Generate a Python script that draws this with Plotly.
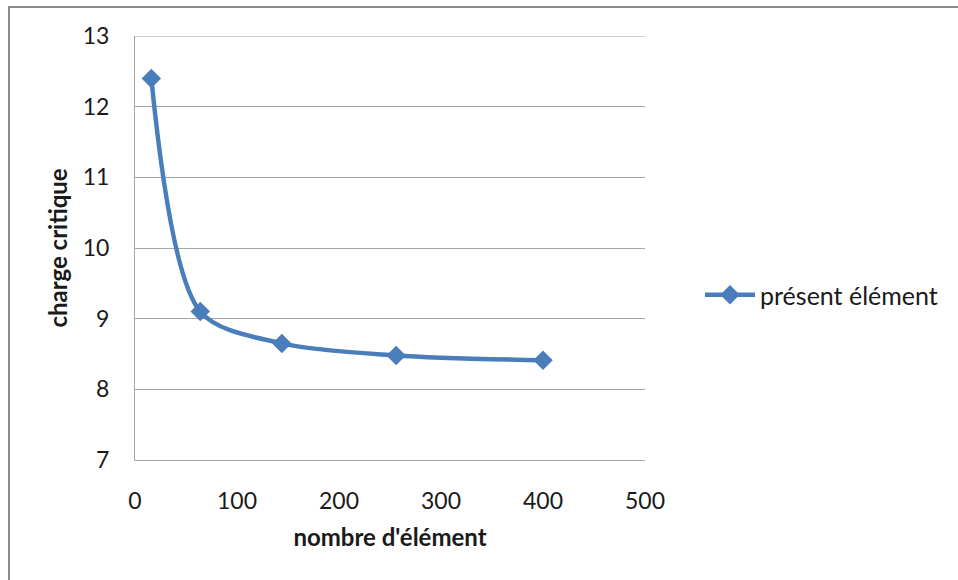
import plotly.graph_objects as go

# Critical load versus number of elements
nombre_element = [16, 64, 144, 256, 400]
charge_critique = [12.4, 9.1, 8.65, 8.48, 8.41]
serie_nom = "présent élément"

x_ticks = [0, 100, 200, 300, 400, 500]
y_ticks = [7, 8, 9, 10, 11, 12, 13]

BLUE = "#4A7EBB"
GRID = "#A6A6A6"
FONT = "Lato, 'Open Sans', sans-serif"

fig = go.Figure()
fig.add_trace(go.Scatter(
    x=nombre_element,
    y=charge_critique,
    mode="lines+markers",
    name=serie_nom,
    line=dict(color=BLUE, width=4.5, shape="spline", smoothing=0.85),
    marker=dict(symbol="diamond", size=15, color=BLUE),
    showlegend=True,
))

W, H = 958, 580
L, R, T, B = 135, 313, 36, 120
pw, ph = W - L - R, H - T - B

def px_x(p):
    return (p - L) / pw

def px_y(p):
    return (H - B - p) / ph

fig.update_layout(
    width=W, height=H,
    margin=dict(l=L, r=R, t=T, b=B),
    paper_bgcolor="white",
    plot_bgcolor="white",
    font=dict(family=FONT, size=23, color="#1a1a1a"),
    xaxis=dict(
        range=[x_ticks[0], x_ticks[-1]], tickvals=x_ticks, showgrid=False,
        zeroline=False, showline=True, linecolor=GRID, linewidth=1,
        ticks="", ticklabelstandoff=20,
        title=dict(text="<b>nombre d'élément</b>", font=dict(size=24), standoff=16),
    ),
    yaxis=dict(
        range=[y_ticks[0], y_ticks[-1]], tickvals=y_ticks, showgrid=True,
        gridcolor=GRID, gridwidth=1, zeroline=False, showline=True,
        linecolor=GRID, linewidth=1, ticks="", ticklabelstandoff=20,
        title=dict(text="<b>charge critique</b>", font=dict(size=24), standoff=8),
    ),
    legend=dict(
        x=px_x(700), y=px_y(295), xanchor="left", yanchor="middle",
        font=dict(size=25), bgcolor="rgba(0,0,0,0)", itemwidth=50,
    ),
    shapes=[
        # top gridline at the upper end of the value axis
        dict(type="line", xref="paper", yref="y", x0=0, x1=1,
             y0=y_ticks[-1], y1=y_ticks[-1],
             line=dict(color=GRID, width=1), layer="below"),
        # outer chart border (left and top edges visible)
        dict(type="rect", xref="paper", yref="paper",
             x0=px_x(9), x1=px_x(1100), y0=px_y(800), y1=px_y(7),
             line=dict(color="#8C8C8C", width=2), fillcolor="rgba(0,0,0,0)",
             layer="below"),
    ],
)

fig.write_html("out.html")
